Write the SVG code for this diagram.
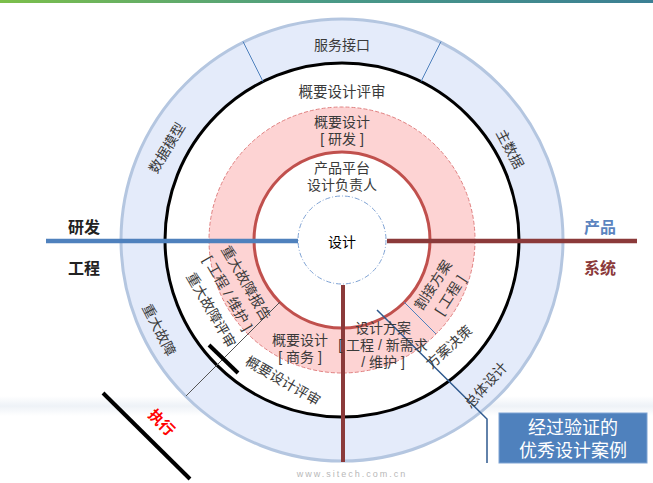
<svg xmlns="http://www.w3.org/2000/svg" width="653" height="483" viewBox="0 0 653 483">
<defs>
<linearGradient id="topbar" x1="0" y1="0" x2="1" y2="0">
<stop offset="0" stop-color="#7cbf4a"/>
<stop offset="0.5" stop-color="#4a9a86"/>
<stop offset="1" stop-color="#3b7f94"/>
</linearGradient>
<linearGradient id="band" x1="0" y1="0" x2="0" y2="1">
<stop offset="0" stop-color="#ffffff"/>
<stop offset="0.5" stop-color="#eef2f7"/>
<stop offset="1" stop-color="#ffffff"/>
</linearGradient>
<style>
.t{font-family:"Liberation Sans","Noto Sans CJK SC",sans-serif;font-size:14px;fill:#3a3a3a;text-anchor:middle}
.side{font-family:"Liberation Sans","Noto Sans CJK SC",sans-serif;font-size:16px;font-weight:bold;text-anchor:middle}
.box{font-family:"Liberation Sans","Noto Sans CJK SC",sans-serif;font-size:18px;fill:#ffffff;text-anchor:middle}
</style>
</defs>
<rect width="653" height="483" fill="#ffffff"/>
<rect x="0" y="0" width="653" height="3" fill="url(#topbar)"/>
<rect x="0" y="396" width="653" height="20" fill="url(#band)"/>

<g id="ring-outer">
<circle cx="342" cy="240" r="221" fill="#e4ebfa" stroke="#b4c6e0" stroke-width="3"/>
</g>
<g id="ring-review">
<circle cx="342" cy="240" r="177" fill="#ffffff" stroke="#000000" stroke-width="3"/>
</g>
<g id="ring-design">
<circle cx="342" cy="240" r="133" fill="#fdd3d3" stroke="#e08080" stroke-width="1" stroke-dasharray="4,2"/>
</g>
<g id="ring-owner">
<circle cx="342" cy="240" r="88" fill="#ffffff" stroke="#c0504d" stroke-width="3"/>
</g>
<g id="core">
<circle cx="342" cy="240" r="44" fill="#ffffff" stroke="#7fa3d4" stroke-width="1" stroke-dasharray="5,2,1,2"/>
<text class="t" x="342" y="247" style="fill:#000">设计</text>
</g>

<g id="connectors">
<line x1="263" y1="81.5" x2="243" y2="41.5" stroke="#4f81bd" stroke-width="1"/>
<line x1="421" y1="81.5" x2="441" y2="41.5" stroke="#4f81bd" stroke-width="1"/>
<line x1="404" y1="302" x2="436" y2="334" stroke="#4f81bd" stroke-width="1"/>
<line x1="280" y1="302" x2="186" y2="396" stroke="#555555" stroke-width="1"/>
<line x1="209" y1="345" x2="238" y2="373" stroke="#000000" stroke-width="4"/>
<polyline points="377,310 487,419 487,463" fill="none" stroke="#2f5a8f" stroke-width="1.5"/>
<line x1="46" y1="241" x2="298" y2="241" stroke="#4f81bd" stroke-width="4.5"/>
<line x1="387" y1="241" x2="637" y2="241" stroke="#8b3a3a" stroke-width="4.5"/>
<line x1="343" y1="285" x2="343" y2="462" stroke="#8b3a3a" stroke-width="4"/>
<line x1="103" y1="393" x2="190" y2="479" stroke="#000000" stroke-width="4"/>
</g>

<g id="outer-labels">
<text class="t" x="342" y="50">服务接口</text>
<text class="t" transform="translate(167,148) rotate(-59)" x="0" y="5">数据模型</text>
<text class="t" transform="translate(510,149) rotate(62)" x="0" y="5">主数据</text>
<text class="t" transform="translate(159,330) rotate(63)" x="0" y="5">重大故障</text>
<text class="t" transform="translate(486,385) rotate(-48)" x="0" y="5">总体设计</text>
</g>

<g id="review-labels">
<text class="t" x="342" y="97" style="font-size:14.5px">概要设计评审</text>
<text class="t" transform="translate(211,310) rotate(60)" x="0" y="5">重大故障评审</text>
<text class="t" transform="translate(283,381) rotate(30)" x="0" y="5">概要设计评审</text>
<text class="t" transform="translate(449,347) rotate(-42)" x="0" y="5">方案决策</text>
</g>

<g id="design-labels">
<text class="t" x="342" y="127">概要设计</text>
<text class="t" x="342" y="144">[ 研发 ]</text>
<text class="t" transform="translate(246,283) rotate(60)" x="0" y="5">重大故障报告</text>
<text class="t" transform="translate(228,293) rotate(60)" x="0" y="5">[ 工程 / 维护 ]</text>
<text class="t" x="300" y="345">概要设计</text>
<text class="t" x="300" y="362">[ 商务 ]</text>
<text class="t" x="383" y="333">设计方案</text>
<text class="t" x="383" y="350">[ 工程 / 新需求</text>
<text class="t" x="383" y="367">/ 维护 ]</text>
<text class="t" transform="translate(433,285) rotate(-57)" x="0" y="5">割接方案</text>
<text class="t" transform="translate(450,295) rotate(-57)" x="0" y="5">[ 工程 ]</text>
</g>

<g id="owner-labels">
<text class="t" x="342" y="173">产品平台</text>
<text class="t" x="342" y="190">设计负责人</text>
</g>

<g id="side-labels">
<text class="side" x="84" y="233" fill="#222222">研发</text>
<text class="side" x="84" y="274" fill="#222222">工程</text>
<text class="side" x="600" y="233" fill="#5b84bf">产品</text>
<text class="side" x="600" y="274" fill="#8b3a3a">系统</text>
<text class="side" transform="translate(162,422) rotate(45)" x="0" y="6" fill="#ff0000" style="font-size:15px">执行</text>
</g>

<g id="result-box">
<rect x="499" y="413" width="148" height="50" fill="#4f81bd" stroke="#7ea3d3" stroke-width="1"/>
<text class="box" x="573" y="434">经过验证的</text>
<text class="box" x="573" y="457">优秀设计案例</text>
</g>

<text x="352" y="477" style="font-family:'Liberation Sans',sans-serif;font-size:9px;fill:#b8b8b8;letter-spacing:2px;text-anchor:middle">www.sitech.com.cn</text>
</svg>
